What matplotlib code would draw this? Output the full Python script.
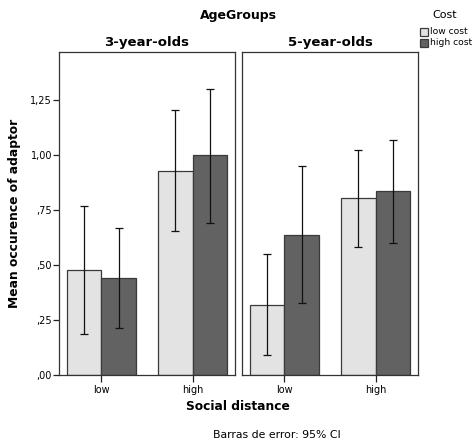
import matplotlib
matplotlib.use("Agg")
import matplotlib.pyplot as plt
from matplotlib.patches import Rectangle
import numpy as np

plt.rcParams['font.family'] = ['DejaVu Sans']

# Data
age_groups = ["3-year-olds", "5-year-olds"]
distances = ["low", "high"]
cost_levels = ["low cost", "high cost"]

# means per age group, indexed by social distance
mean_low_cost = {"3-year-olds": [0.477, 0.929], "5-year-olds": [0.318, 0.803]}
mean_high_cost = {"3-year-olds": [0.442, 1.000], "5-year-olds": [0.636, 0.836]}
ci_low_cost_lo = {"3-year-olds": [0.185, 0.655], "5-year-olds": [0.091, 0.583]}
ci_low_cost_hi = {"3-year-olds": [0.769, 1.203], "5-year-olds": [0.548, 1.021]}
ci_high_cost_lo = {"3-year-olds": [0.215, 0.692], "5-year-olds": [0.327, 0.601]}
ci_high_cost_hi = {"3-year-olds": [0.670, 1.298], "5-year-olds": [0.948, 1.067]}

ytick_vals = [0.0, 0.25, 0.5, 0.75, 1.0, 1.25]
ytick_labels = [",00", ",25", ",50", ",75", "1,00", "1,25"]

colors = {"low cost": "#e3e3e3", "high cost": "#626262"}
edge = "#3a3a3a"

W, H = 475, 441
fig = plt.figure(figsize=(W / 100, H / 100), dpi=100)

def fx(px):
    return px / W

def fy(py):
    return 1 - py / H

panel_lefts = [59, 242]
panel_w = 176
top, bottom = 52, 375
bw = 0.374
x = np.arange(len(distances))

for i, age in enumerate(age_groups):
    ax = fig.add_axes([fx(panel_lefts[i]), fy(bottom), panel_w / W, (bottom - top) / H])
    series = [
        (mean_low_cost[age], ci_low_cost_lo[age], ci_low_cost_hi[age], "low cost", -bw / 2),
        (mean_high_cost[age], ci_high_cost_lo[age], ci_high_cost_hi[age], "high cost", bw / 2),
    ]
    for means, lo, hi, name, off in series:
        ax.bar(x + off, np.array(means), width=bw, color=colors[name], edgecolor=edge,
               linewidth=0.9, zorder=2)
    for means, lo, hi, name, off in series:
        means = np.array(means)
        yerr = np.vstack([means - np.array(lo), np.array(hi) - means])
        ax.errorbar(x + off, means, yerr=yerr, fmt="none", ecolor="#111111",
                    elinewidth=0.9, capsize=3, capthick=0.9, zorder=3)
    ax.set_xlim(-0.467, 1.467)
    ax.set_ylim(0, 1.468)
    ax.set_xticks(x)
    ax.set_xticklabels(distances, fontsize=7)
    ax.tick_params(axis="x", length=5, width=0.9, pad=2, color="#222222")
    ax.set_yticks(ytick_vals)
    if i == 0:
        ax.set_yticklabels(ytick_labels, fontsize=7)
        ax.tick_params(axis="y", length=4, width=0.9, pad=1, color="#222222")
    else:
        ax.tick_params(axis="y", left=False, labelleft=False)
    for sp in ax.spines.values():
        sp.set_linewidth(0.9)
        sp.set_color("#333333")
    ax.set_title(age, fontsize=9.5, fontweight="bold", pad=4)

fig.text(fx(238), fy(15), "AgeGroups", ha="center", va="center",
         fontsize=9, fontweight="bold")
fig.text(fx(15), fy(213), "Mean occurence of adaptor", rotation=90,
         ha="center", va="center", fontsize=8.8, fontweight="bold")
fig.text(fx(238), fy(406), "Social distance", ha="center", va="center",
         fontsize=8.8, fontweight="bold")
fig.text(fx(277), fy(435), "Barras de error: 95% CI", ha="center", va="center",
         fontsize=7.8)

# Legend drawn by hand in figure pixel coordinates
fig.text(fx(445), fy(15), "Cost", ha="center", va="center", fontsize=8)
for k, c in enumerate(cost_levels):
    y_top = 28 + k * 10.5
    fig.add_artist(Rectangle((fx(420), fy(y_top + 8)), 8 / W, 8 / H,
                             transform=fig.transFigure, facecolor=colors[c],
                             edgecolor=edge, linewidth=0.9))
    fig.text(fx(430), fy(y_top + 4), c, ha="left", va="center", fontsize=6.6)

fig.savefig("out.png", dpi=100)
